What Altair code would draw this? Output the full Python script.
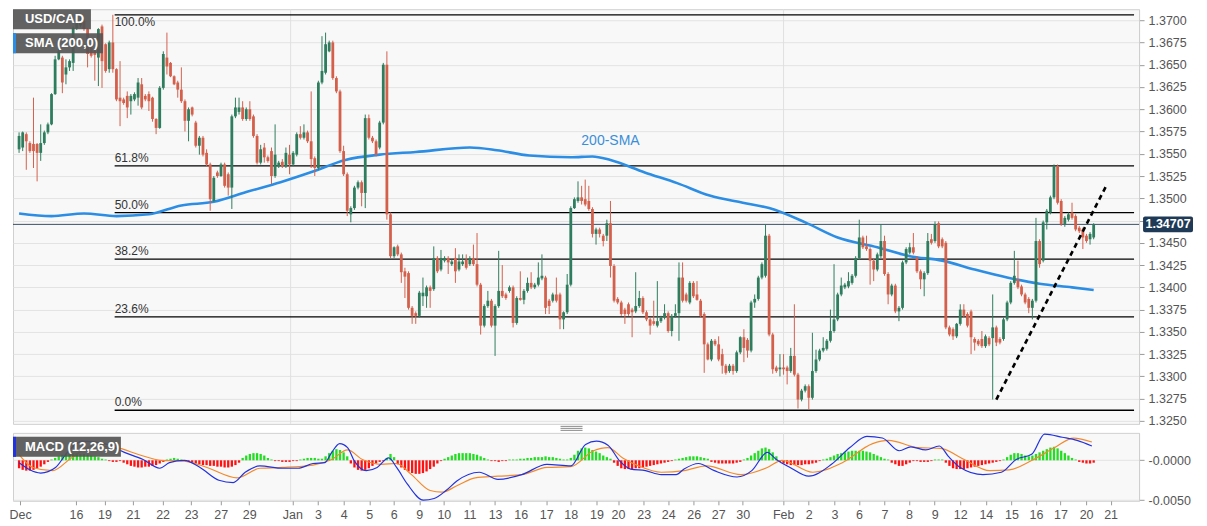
import altair as alt
import pandas as pd

# ---------------- candle data (4H USD/CAD) ----------------
open_ = [1.3555,1.3557,1.3572,1.3562,1.3561,1.3561,1.3551,1.3562,1.3574,1.3583,1.3617,1.3656,1.3658,1.3639,1.3647,1.3652,1.3691,1.3694,1.3699,1.3690,
1.3669,1.3665,1.3658,1.3693,1.3673,1.3645,1.3675,1.3645,1.3613,1.3611,1.3615,1.3609,1.3611,1.3613,1.3628,1.3615,1.3617,1.3613,1.3589,1.3579,
1.3624,1.3658,1.3652,1.3637,1.3630,1.3622,1.3609,1.3587,1.3602,1.3585,1.3559,1.3568,1.3551,1.3538,1.3497,1.3529,1.3525,1.3538,1.3527,1.3512,
1.3592,1.3597,1.3602,1.3589,1.3600,1.3592,1.3570,1.3540,1.3557,1.3546,1.3553,1.3525,1.3536,1.3541,1.3536,1.3549,1.3538,1.3549,1.3572,1.3568,
1.3574,1.3564,1.3545,1.3534,1.3630,1.3641,1.3665,1.3675,1.3635,1.3620,1.3553,1.3527,1.3482,1.3489,1.3512,1.3518,1.3506,1.3590,1.3568,1.3564,
1.3557,1.3585,1.3650,1.3482,1.3435,1.3446,1.3437,1.3418,1.3416,1.3377,1.3371,1.3368,1.3390,1.3390,1.3400,1.3398,1.3433,1.3420,1.3430,1.3433,
1.3426,1.3433,1.3420,1.3426,1.3431,1.3426,1.3433,1.3426,1.3403,1.3357,1.3379,1.3385,1.3357,1.3379,1.3396,1.3392,1.3396,1.3400,1.3360,1.3388,
1.3386,1.3396,1.3405,1.3400,1.3403,1.3410,1.3411,1.3385,1.3385,1.3392,1.3392,1.3364,1.3372,1.3403,1.3489,1.3497,1.3501,1.3499,1.3497,1.3488,
1.3460,1.3465,1.3458,1.3458,1.3472,1.3424,1.3387,1.3383,1.3375,1.3381,1.3375,1.3373,1.3379,1.3388,1.3372,1.3364,1.3362,1.3357,1.3362,1.3366,
1.3371,1.3351,1.3368,1.3371,1.3411,1.3392,1.3383,1.3405,1.3392,1.3385,1.3370,1.3336,1.3319,1.3340,1.3336,1.3325,1.3312,1.3306,1.3312,1.3306,
1.3327,1.3344,1.3341,1.3329,1.3383,1.3387,1.3411,1.3413,1.3458,1.3347,1.3310,1.3308,1.3310,1.3310,1.3306,1.3323,1.3302,1.3274,1.3284,1.3289,
1.3276,1.3306,1.3319,1.3329,1.3331,1.3340,1.3351,1.3364,1.3392,1.3400,1.3401,1.3405,1.3413,1.3433,1.3456,1.3446,1.3443,1.3430,1.3420,1.3435,
1.3452,1.3415,1.3392,1.3402,1.3373,1.3377,1.3428,1.3439,1.3445,1.3433,1.3418,1.3409,1.3416,1.3454,1.3452,1.3472,1.3454,1.3450,1.3355,1.3353,
1.3345,1.3359,1.3375,1.3370,1.3373,1.3342,1.3340,1.3342,1.3334,1.3343,1.3343,1.3355,1.3342,1.3342,1.3364,1.3383,1.3405,1.3409,1.3401,1.3392,
1.3387,1.3377,1.3385,1.3452,1.3430,1.3473,1.3484,1.3501,1.3536,1.3497,1.3471,1.3476,1.3484,1.3480,1.3467,1.3465,1.3458,1.3454,1.3456]
high_ = [1.3574,1.3575,1.3574,1.3564,1.3613,1.3562,1.3583,1.3576,1.3585,1.3618,1.3660,1.3673,1.3660,1.3656,1.3656,1.3693,1.3701,1.3703,1.3701,1.3691,
1.3672,1.3667,1.3691,1.3695,1.3674,1.3677,1.3706,1.3646,1.3654,1.3613,1.3620,1.3617,1.3619,1.3635,1.3635,1.3617,1.3620,1.3614,1.3590,1.3626,
1.3665,1.3686,1.3653,1.3638,1.3632,1.3647,1.3611,1.3602,1.3603,1.3587,1.3570,1.3570,1.3555,1.3540,1.3525,1.3531,1.3540,1.3540,1.3529,1.3594,
1.3613,1.3613,1.3609,1.3602,1.3609,1.3594,1.3572,1.3560,1.3562,1.3548,1.3557,1.3583,1.3542,1.3544,1.3557,1.3560,1.3553,1.3574,1.3581,1.3583,
1.3576,1.3620,1.3547,1.3632,1.3682,1.3686,1.3677,1.3677,1.3637,1.3622,1.3559,1.3529,1.3491,1.3514,1.3520,1.3520,1.3594,1.3594,1.3570,1.3566,
1.3587,1.3652,1.3665,1.3484,1.3446,1.3448,1.3439,1.3422,1.3418,1.3379,1.3373,1.3396,1.3411,1.3402,1.3402,1.3446,1.3435,1.3442,1.3435,1.3435,
1.3431,1.3444,1.3437,1.3437,1.3437,1.3435,1.3448,1.3461,1.3405,1.3381,1.3396,1.3387,1.3381,1.3441,1.3425,1.3394,1.3402,1.3402,1.3390,1.3418,
1.3398,1.3411,1.3417,1.3405,1.3428,1.3437,1.3413,1.3387,1.3394,1.3411,1.3394,1.3373,1.3415,1.3491,1.3501,1.3519,1.3514,1.3521,1.3514,1.3490,
1.3467,1.3467,1.3460,1.3476,1.3497,1.3426,1.3389,1.3385,1.3377,1.3383,1.3377,1.3417,1.3396,1.3390,1.3374,1.3366,1.3385,1.3407,1.3368,1.3381,
1.3373,1.3370,1.3381,1.3428,1.3428,1.3394,1.3407,1.3407,1.3407,1.3387,1.3372,1.3338,1.3342,1.3342,1.3345,1.3331,1.3314,1.3314,1.3314,1.3329,
1.3345,1.3353,1.3343,1.3385,1.3392,1.3413,1.3428,1.3471,1.3460,1.3349,1.3312,1.3325,1.3325,1.3312,1.3332,1.3381,1.3304,1.3286,1.3291,1.3291,
1.3349,1.3330,1.3331,1.3344,1.3342,1.3375,1.3426,1.3394,1.3411,1.3405,1.3417,1.3415,1.3435,1.3476,1.3458,1.3458,1.3445,1.3432,1.3439,1.3471,
1.3458,1.3417,1.3404,1.3404,1.3379,1.3430,1.3445,1.3450,1.3461,1.3435,1.3420,1.3418,1.3461,1.3460,1.3474,1.3474,1.3456,1.3452,1.3357,1.3355,
1.3360,1.3381,1.3381,1.3372,1.3375,1.3344,1.3342,1.3351,1.3347,1.3345,1.3392,1.3357,1.3344,1.3366,1.3385,1.3407,1.3441,1.3430,1.3403,1.3394,
1.3389,1.3387,1.3478,1.3454,1.3475,1.3488,1.3503,1.3538,1.3538,1.3499,1.3480,1.3484,1.3495,1.3482,1.3469,1.3467,1.3460,1.3462,1.3472]
low_ = [1.3551,1.3553,1.3532,1.3551,1.3534,1.3519,1.3542,1.3560,1.3572,1.3582,1.3616,1.3655,1.3618,1.3628,1.3643,1.3643,1.3689,1.3692,1.3688,1.3647,
1.3658,1.3632,1.3626,1.3624,1.3641,1.3641,1.3641,1.3609,1.3581,1.3605,1.3590,1.3594,1.3609,1.3604,1.3600,1.3609,1.3598,1.3586,1.3572,1.3578,
1.3622,1.3639,1.3636,1.3627,1.3613,1.3607,1.3575,1.3564,1.3592,1.3557,1.3549,1.3547,1.3536,1.3486,1.3496,1.3523,1.3524,1.3512,1.3503,1.3488,
1.3590,1.3594,1.3587,1.3587,1.3587,1.3568,1.3538,1.3538,1.3540,1.3540,1.3516,1.3523,1.3534,1.3534,1.3534,1.3527,1.3536,1.3547,1.3566,1.3566,
1.3562,1.3534,1.3525,1.3532,1.3628,1.3639,1.3664,1.3633,1.3618,1.3551,1.3525,1.3480,1.3473,1.3487,1.3510,1.3491,1.3489,1.3566,1.3562,1.3547,
1.3555,1.3583,1.3476,1.3433,1.3433,1.3435,1.3405,1.3388,1.3375,1.3359,1.3359,1.3366,1.3379,1.3377,1.3377,1.3396,1.3416,1.3418,1.3428,1.3415,
1.3424,1.3405,1.3418,1.3424,1.3420,1.3424,1.3424,1.3401,1.3347,1.3355,1.3377,1.3355,1.3323,1.3377,1.3388,1.3386,1.3394,1.3355,1.3358,1.3385,
1.3381,1.3394,1.3398,1.3398,1.3401,1.3408,1.3370,1.3370,1.3383,1.3383,1.3353,1.3353,1.3370,1.3401,1.3488,1.3495,1.3493,1.3491,1.3486,1.3456,
1.3448,1.3456,1.3446,1.3452,1.3411,1.3383,1.3381,1.3368,1.3359,1.3368,1.3344,1.3371,1.3377,1.3370,1.3362,1.3347,1.3357,1.3355,1.3360,1.3364,
1.3349,1.3345,1.3366,1.3340,1.3383,1.3383,1.3381,1.3388,1.3385,1.3366,1.3304,1.3318,1.3317,1.3334,1.3317,1.3303,1.3302,1.3304,1.3302,1.3304,
1.3325,1.3316,1.3321,1.3327,1.3377,1.3385,1.3409,1.3411,1.3345,1.3303,1.3304,1.3300,1.3302,1.3291,1.3304,1.3300,1.3264,1.3272,1.3282,1.3263,
1.3274,1.3304,1.3317,1.3327,1.3329,1.3338,1.3349,1.3362,1.3390,1.3398,1.3399,1.3403,1.3411,1.3431,1.3443,1.3441,1.3403,1.3407,1.3418,1.3433,
1.3413,1.3381,1.3390,1.3371,1.3362,1.3375,1.3426,1.3437,1.3437,1.3416,1.3398,1.3390,1.3414,1.3448,1.3450,1.3444,1.3444,1.3353,1.3345,1.3341,
1.3343,1.3357,1.3366,1.3355,1.3325,1.3329,1.3334,1.3332,1.3332,1.3334,1.3274,1.3334,1.3336,1.3340,1.3362,1.3381,1.3403,1.3398,1.3390,1.3381,
1.3371,1.3364,1.3383,1.3422,1.3428,1.3465,1.3482,1.3499,1.3493,1.3469,1.3468,1.3474,1.3476,1.3463,1.3461,1.3443,1.3450,1.3448,1.3454]
close_ = [1.3570,1.3574,1.3564,1.3553,1.3553,1.3551,1.3562,1.3574,1.3583,1.3617,1.3656,1.3665,1.3630,1.3647,1.3654,1.3691,1.3697,1.3699,1.3690,1.3662,
1.3660,1.3661,1.3690,1.3654,1.3643,1.3675,1.3645,1.3611,1.3609,1.3607,1.3602,1.3615,1.3617,1.3630,1.3602,1.3611,1.3609,1.3589,1.3579,1.3624,
1.3662,1.3648,1.3637,1.3628,1.3622,1.3609,1.3587,1.3600,1.3594,1.3559,1.3568,1.3549,1.3538,1.3499,1.3523,1.3525,1.3538,1.3514,1.3512,1.3592,
1.3602,1.3602,1.3589,1.3600,1.3589,1.3570,1.3540,1.3555,1.3546,1.3542,1.3525,1.3549,1.3540,1.3536,1.3551,1.3538,1.3551,1.3572,1.3568,1.3574,
1.3564,1.3544,1.3534,1.3630,1.3643,1.3673,1.3675,1.3635,1.3620,1.3553,1.3527,1.3486,1.3489,1.3512,1.3518,1.3506,1.3590,1.3568,1.3564,1.3549,
1.3585,1.3650,1.3482,1.3435,1.3445,1.3437,1.3417,1.3412,1.3377,1.3368,1.3368,1.3394,1.3394,1.3400,1.3396,1.3433,1.3418,1.3433,1.3433,1.3428,
1.3429,1.3418,1.3429,1.3429,1.3422,1.3433,1.3426,1.3403,1.3357,1.3379,1.3385,1.3357,1.3379,1.3396,1.3390,1.3388,1.3400,1.3360,1.3388,1.3386,
1.3396,1.3405,1.3400,1.3403,1.3411,1.3413,1.3377,1.3379,1.3392,1.3385,1.3364,1.3372,1.3403,1.3489,1.3499,1.3501,1.3497,1.3493,1.3488,1.3460,
1.3465,1.3460,1.3452,1.3472,1.3424,1.3385,1.3383,1.3370,1.3370,1.3370,1.3372,1.3379,1.3388,1.3372,1.3364,1.3357,1.3359,1.3362,1.3366,1.3371,
1.3351,1.3368,1.3371,1.3411,1.3385,1.3385,1.3405,1.3390,1.3386,1.3368,1.3336,1.3319,1.3340,1.3336,1.3319,1.3312,1.3304,1.3312,1.3306,1.3327,
1.3344,1.3332,1.3329,1.3383,1.3387,1.3411,1.3426,1.3458,1.3347,1.3308,1.3306,1.3310,1.3308,1.3306,1.3323,1.3302,1.3274,1.3284,1.3289,1.3276,
1.3306,1.3319,1.3329,1.3332,1.3340,1.3351,1.3364,1.3392,1.3402,1.3403,1.3407,1.3413,1.3433,1.3456,1.3445,1.3443,1.3430,1.3420,1.3437,1.3452,
1.3415,1.3392,1.3402,1.3373,1.3377,1.3428,1.3443,1.3445,1.3439,1.3418,1.3409,1.3416,1.3452,1.3450,1.3471,1.3446,1.3446,1.3355,1.3347,1.3345,
1.3359,1.3375,1.3368,1.3357,1.3344,1.3338,1.3336,1.3334,1.3345,1.3336,1.3355,1.3338,1.3338,1.3364,1.3383,1.3405,1.3413,1.3400,1.3392,1.3383,
1.3377,1.3385,1.3452,1.3426,1.3473,1.3486,1.3501,1.3536,1.3495,1.3471,1.3478,1.3482,1.3478,1.3465,1.3463,1.3456,1.3452,1.3460,1.34707]

# ---------------- 200-SMA (candle index, value) ----------------
sma_idx = [0, 9, 18, 27, 36, 45, 54, 63, 72.5, 81.5, 90.5, 100, 110, 125, 132.5, 141.5, 153, 159, 164, 173.5,
           182.5, 191.5, 200.7, 208, 218, 227, 238, 247, 256, 265, 274, 283, 292, 298]
sma_val = [1.3483, 1.3480, 1.3483, 1.3480, 1.3482, 1.3492, 1.3496, 1.3507, 1.3518, 1.3530, 1.3543, 1.3549, 1.3552, 1.3557,
           1.3554, 1.3548, 1.3546, 1.3547, 1.3543, 1.3529, 1.3517, 1.3503, 1.3495, 1.3489, 1.3473, 1.3456, 1.3445, 1.3435,
           1.3430, 1.3420, 1.3411, 1.3404, 1.3400, 1.3397]

# ---------------- MACD (12,26,9) ----------------
macd_idx = [0, 6.0, 10.1, 13.4, 17.5, 23.7, 29.2, 34.4, 39.0, 41.7, 45.8, 50.2, 55.4, 59.4, 62.7, 66.8, 73.1, 77.4, 81.5, 84.8,
            86.7, 88.9, 91.1, 93.0, 96.3, 99.3, 102.5, 104.7, 107.7, 112.1, 115.1, 118.4, 121.4, 127.6, 132.8, 139.4, 146.4, 153.0,
            157.1, 160.1, 163.3, 166.6, 169.6, 173.7, 178.1, 182.2, 184.4, 188.4, 192.8, 199.1, 203.2, 207.5, 210.0, 213.8, 219.0,
            225.3, 230.4, 235.1, 239.4, 244.1, 247.3, 251.4, 255.2, 257.7, 261.0, 267.3, 272.4, 276.5, 280.9, 284.4, 289.3, 293.4, 297.5]
macd_val = [-0.0003, -0.0016, -0.0009, 0.0010, 0.0024, 0.0021, 0.0010, 0.0001, -0.0010, -0.0003, 0.0000, -0.0009, -0.0025, -0.0028,
            -0.0015, -0.0007, -0.0010, -0.0010, -0.0004, -0.0003, 0.0010, 0.0021, 0.0016, -0.0001, -0.0013, -0.0009, 0.0003, -0.0009,
            -0.0030, -0.0050, -0.0048, -0.0038, -0.0026, -0.0015, -0.0024, -0.0018, -0.0005, -0.0007, 0.0020, 0.0024, 0.0019, -0.0001,
            -0.0011, -0.0013, -0.0018, -0.0018, -0.0011, -0.0004, -0.0013, -0.0021, -0.0013, 0.0010, 0.0001, -0.0009, -0.0020, -0.0005,
            0.0016, 0.0030, 0.0028, 0.0012, 0.0017, 0.0013, 0.0018, 0.0005, -0.0009, -0.0018, -0.0015, 0.0001, 0.0008, 0.0033, 0.0029,
            0.0025, 0.0018]
signal_idx = [0, 3.8, 9.3, 14.5, 20.7, 27.0, 33.3, 39.5, 45.8, 52.1, 60.5, 66.8, 73.1, 81.5, 86.7, 91.1, 95.2, 100.4, 104.7, 108.8,
              114.0, 117.3, 121.4, 126.5, 132.8, 139.4, 146.4, 153.0, 159.3, 163.3, 167.4, 171.8, 178.1, 184.4, 190.6, 200.2, 207.5,
              211.6, 220.1, 228.3, 236.7, 241.1, 249.3, 255.5, 262.1, 269.2, 274.6, 280.9, 287.2, 292.4, 297.5]
signal_val = [0.0007, -0.0009, -0.0013, 0.0003, 0.0018, 0.0016, 0.0007, 0.0000, -0.0001, -0.0009, -0.0022, -0.0010, -0.0009, -0.0006,
              0.0001, 0.0013, 0.0001, -0.0005, -0.0004, -0.0018, -0.0038, -0.0040, -0.0032, -0.0022, -0.0020, -0.0018, -0.0009,
              -0.0008, 0.0012, 0.0016, 0.0003, -0.0007, -0.0015, -0.0013, -0.0007, -0.0018, -0.0009, 0.0000, -0.0015, -0.0003, 0.0021,
              0.0025, 0.0016, 0.0015, 0.0001, -0.0013, -0.0012, 0.0000, 0.0016, 0.0028, 0.0023]
# histogram, one bar per candle, in units of 0.0001
hist_e4 = [-10,-12,-13,-13,-12,-10,-8,-5,-2,
           1,3,5,7,8,9,9,9,8,8,7,6,5,4,2,1,
           -1,-2,-2,-1,
           -3,-5,-7,-8,-9,-9,-8,-8,-7,-6,-4,-2,
           1,2,3,2,1,
           -1,-2,-3,-4,-5,-6,-6,-7,-7,-8,-8,-9,-9,-8,-6,
           -3,
           3,6,8,9,9,8,6,3,
           1,
           -1,-1,-2,-2,-2,-1,-1,
           1,2,3,3,3,2,2,
           5,9,12,14,13,10,5,
           -4,-9,-12,-13,-12,-10,-7,-4,
           -2,-1,
           3,8,4,
           -5,-9,-12,-14,-16,-17,-17,-16,-14,-11,-8,-4,
           -1,
           2,4,6,8,9,9,9,9,8,7,5,3,1,
           -1,-1,-2,-1,-1,
           1,1,1,2,2,3,3,4,4,4,5,4,4,3,2,1,
           1,3,7,
           12,15,16,15,13,11,9,6,4,
           2,
           -3,-7,-10,-11,-11,-11,-10,-10,-9,-8,-7,-6,-5,-4,-3,-2,-1,
           1,
           2,3,4,5,5,5,4,3,2,
           -2,-3,-4,-4,-4,-4,-4,-3,-2,
           1,3,
           6,9,12,15,16,14,10,5,
           -2,-4,-5,-6,-6,-6,-6,-5,-5,-4,-3,
           -1,
           1,2,4,6,8,9,10,11,12,12,12,12,11,10,8,6,4,2,
           1,
           -3,-5,-7,-7,-5,-3,
           -1,
           -1,-2,-2,-2,-1,
           1,1,1,
           -3,-7,-10,-11,-11,-11,-10,-9,-8,-7,-6,-5,-4,-3,-2,-1,
           1,
           4,7,9,9,8,6,5,
           6,8,10,12,14,16,17,15,12,9,6,3,1,
           -2,-3,-4,-4,-3]

# ---------------- Fibonacci retracement ----------------
fib_labels = ["100.0%", "61.8%", "50.0%", "38.2%", "23.6%", "0.0%"]
fib_levels = [1.3706, 1.35364, 1.3484, 1.34316, 1.33668, 1.3262]
fib_start = 26.5

trend_idx = [271, 301.5]
trend_val = [1.3274, 1.3514]
last_price = 1.34707

y_ticks = [1.3250, 1.3275, 1.3300, 1.3325, 1.3350, 1.3375, 1.3400, 1.3425, 1.3450, 1.3475,
           1.3500, 1.3525, 1.3550, 1.3575, 1.3600, 1.3625, 1.3650, 1.3675, 1.3700]
x_tick_pos = [0.3, 15.8, 23.7, 31.6, 39.8, 47.7, 55.9, 63.8, 75.8, 82.9, 90.0, 97.1, 103.9, 111.0, 117.8,
              124.9, 132.0, 139.1, 146.2, 153.0, 160.1, 166.1, 173.2, 180.0, 187.1, 193.9, 200.7,
              211.9, 219.0, 226.1, 232.9, 240.0, 246.8, 253.9, 261.0, 268.1, 275.2, 282.0, 288.8, 295.9, 302.7]
x_tick_lab = ["Dec", "16", "19", "21", "22", "23", "27", "29", "Jan", "3", "4", "5", "6", "9", "10",
              "11", "13", "16", "17", "18", "19", "20", "23", "24", "26", "27", "30",
              "Feb", "2", "3", "6", "7", "8", "9", "12", "14", "15", "16", "17", "20", "21"]
month_sep = [75.3, 212.0]

# ---------------- styling ----------------
GREEN = "#2e7d5e"
RED = "#d4604c"
FONT = "Liberation Sans"
W = 1127
H_MAIN = 415
H_MACD = 68
X_DOM = [-0.3, 309.2]
Y_DOM = [1.32467, 1.37123]
M_DOM = [-0.00509, 0.00345]

n = min(len(open_), len(high_), len(low_), len(close_))
candles = pd.DataFrame({
    "idx": list(range(n)),
    "open": open_[:n], "high": high_[:n], "low": low_[:n], "close": close_[:n],
})
m = min(len(hist_e4), n)
hist_df = pd.DataFrame({"idx": list(range(m)), "h": [v * 0.0001 for v in hist_e4[:m]]})
sma_df = pd.DataFrame({"idx": sma_idx, "v": sma_val})
macd_df = pd.DataFrame({"idx": macd_idx, "v": macd_val})
sig_df = pd.DataFrame({"idx": signal_idx, "v": signal_val})
# the top level's label sits under its line (no room above the plot edge), the others above it
fib_df = pd.DataFrame({"lvl": fib_levels, "lab": fib_labels, "x0": [fib_start] * len(fib_levels),
                       "x1": [X_DOM[1]] * len(fib_levels),
                       "below": [1] + [0] * (len(fib_levels) - 1)})
trend_df = pd.DataFrame({"idx": trend_idx, "v": trend_val})
sep_df = pd.DataFrame({"idx": month_sep})
last_df = pd.DataFrame({"p": [last_price], "lab": [f"{last_price:.5f}"],
                        "top": [last_price + 0.00088], "bot": [last_price - 0.00088]})
one = pd.DataFrame({"k": [0]})

xs = alt.Scale(domain=X_DOM, nice=False, zero=False)
ys = alt.Scale(domain=Y_DOM, nice=False, zero=False)
ms = alt.Scale(domain=M_DOM, nice=False, zero=False)

Y_AX = alt.Axis(orient="right", values=y_ticks,
                labelExpr=f"abs(datum.value - {last_price}) < 0.0006 ? '' : format(datum.value, '.4f')",
                grid=True, gridColor="#e3e3e3",
                domain=True, domainColor="#cfcfcf", tickColor="#9a9a9a", tickSize=5,
                labelColor="#555555", labelFontSize=12.5, labelFont=FONT, labelPadding=4, title=None)
M_AX = alt.Axis(orient="right", values=[0.0, -0.005],
                labelExpr="datum.value == 0 ? '-0.0000' : '-0.0050'",
                grid=True, gridColor="#e3e3e3", domain=True, domainColor="#cfcfcf", tickColor="#9a9a9a",
                tickSize=5, labelColor="#555555", labelFontSize=12.5, labelFont=FONT, labelPadding=4, title=None)
labs_js = "[" + ",".join(f"'{s}'" for s in x_tick_lab) + "]"
pos_js = "[" + ",".join(repr(p) for p in x_tick_pos) + "]"
X_AX = alt.Axis(orient="bottom", values=x_tick_pos, labelExpr=f"{labs_js}[indexof({pos_js}, datum.value)]",
                grid=False, domain=False, tickColor="#9a9a9a", tickSize=4, labelColor="#555555",
                labelFontSize=12.5, labelFont=FONT, labelPadding=4, labelOverlap=False, labelBound=False,
                labelFlush=False, title=None)

col = alt.condition("datum.close >= datum.open", alt.value(GREEN), alt.value(RED))


def xm(f):
    return alt.X(f, scale=xs, axis=None)


def ym(f):
    return alt.Y(f, scale=ys, axis=Y_AX)


sep_main = alt.Chart(sep_df).mark_rule(color="#e0e0e0", strokeWidth=1).encode(x=xm("idx:Q"))

wicks = alt.Chart(candles).mark_rule(strokeWidth=1).encode(
    x=xm("idx:Q"), y=ym("low:Q"), y2="high:Q", color=col)
bodies = alt.Chart(candles).mark_bar(width=2.8).encode(
    x=xm("idx:Q"), y=ym("open:Q"), y2="close:Q", color=col)

fib_rules = alt.Chart(fib_df).mark_rule(color="#000000", strokeWidth=1.3).encode(
    x=xm("x0:Q"), x2="x1:Q", y=ym("lvl:Q"))
fib_text_above = alt.Chart(fib_df).transform_filter("datum.below == 0").mark_text(
    align="left", baseline="bottom", dy=-1, fontSize=12, font=FONT, color="#333333").encode(
    x=xm("x0:Q"), y=ym("lvl:Q"), text="lab:N")
fib_text_below = alt.Chart(fib_df).transform_filter("datum.below == 1").mark_text(
    align="left", baseline="top", dy=2, fontSize=12, font=FONT, color="#333333").encode(
    x=xm("x0:Q"), y=ym("lvl:Q"), text="lab:N")

last_line = alt.Chart(last_df).mark_rule(color="#3b4f66", strokeWidth=1).encode(y=ym("p:Q"))

sma_line = alt.Chart(sma_df).mark_line(color="#2b8de3", strokeWidth=2.6, interpolate="monotone").encode(
    x=xm("idx:Q"), y=ym("v:Q"))
sma_lab = alt.Chart(pd.DataFrame({"idx": [164], "v": [1.3556], "t": ["200-SMA"]})).mark_text(
    fontSize=14, font=FONT, color="#3a8fd9", baseline="bottom").encode(
    x=xm("idx:Q"), y=ym("v:Q"), text="t:N")

trend = alt.Chart(trend_df).mark_line(color="#000000", strokeWidth=2.6, strokeDash=[5, 4]).encode(
    x=xm("idx:Q"), y=ym("v:Q"))

price_box = alt.Chart(last_df).mark_rect(color="#1f3a57", cornerRadius=2).encode(
    x=alt.value(W + 4), x2=alt.value(W + 54), y=ym("top:Q"), y2="bot:Q")
price_txt = alt.Chart(last_df).mark_text(color="white", fontWeight="bold", fontSize=12.5, font=FONT).encode(
    x=alt.value(W + 29), y=ym("p:Q"), text="lab:N")

# small pane-resize handle between the two panels
handle = [alt.Chart(one).mark_rule(color="#8a8a8a", strokeWidth=1).encode(
    x=alt.value(548), x2=alt.value(570), y=alt.value(H_MAIN + dy)) for dy in (2.5, 4.5, 6.5)]


def legend_box(x1, y0, y1, strip_color=None, label="", ty=0):
    layers = [alt.Chart(one).mark_rect(color="#555555", opacity=0.92).encode(
        x=alt.value(0), x2=alt.value(x1), y=alt.value(y0), y2=alt.value(y1))]
    if strip_color:
        layers.append(alt.Chart(one).mark_rect(color=strip_color).encode(
            x=alt.value(0), x2=alt.value(3), y=alt.value(y0), y2=alt.value(y1)))
    layers.append(alt.Chart(one).mark_text(color="white", fontWeight="bold", fontSize=13, font=FONT,
                                           align="left", baseline="middle", text=label).encode(
        x=alt.value(12), y=alt.value(ty)))
    return layers


main = alt.layer(
    sep_main, last_line, fib_rules, sma_line, wicks, bodies, trend, fib_text_above, fib_text_below, sma_lab,
    price_box, price_txt, *handle,
    *legend_box(78, 0, 20, None, "USD/CAD", 10),
    *legend_box(90, 24, 44, "#2b8de3", "SMA (200,0)", 34),
).properties(width=W, height=H_MAIN)


# ---------------- MACD panel ----------------
def xb(f):
    return alt.X(f, scale=xs, axis=X_AX)


def yb(f):
    return alt.Y(f, scale=ms, axis=M_AX)


sep_macd = alt.Chart(sep_df).mark_rule(color="#e0e0e0", strokeWidth=1).encode(x=xb("idx:Q"))
hist = alt.Chart(hist_df).mark_bar(width=2.3).encode(
    x=xb("idx:Q"), y=yb("h:Q"), y2=alt.datum(0),
    color=alt.condition("datum.h >= 0", alt.value("#22dd22"), alt.value("#ff1111")),
)
sig_line = alt.Chart(sig_df).mark_line(color="#f28a2e", strokeWidth=1.2, interpolate="monotone").encode(
    x=xb("idx:Q"), y=yb("v:Q"))
macd_line = alt.Chart(macd_df).mark_line(color="#2233dd", strokeWidth=1.2, interpolate="monotone").encode(
    x=xb("idx:Q"), y=yb("v:Q"))

macd_panel = alt.layer(
    sep_macd, hist, sig_line, macd_line,
    *legend_box(108, 4, 24, "#2233dd", "MACD (12,26,9)", 14),
).properties(width=W, height=H_MACD)

chart = alt.vconcat(main, macd_panel, spacing=9, bounds="flush").properties(
    padding={"left": 0, "top": 0, "right": 5, "bottom": 5},
    background="white",
).configure_view(stroke="#d0d0d0", fill="#f8f8f8").resolve_scale(x="shared")

chart.save("out.html", embed_options={"renderer": "svg", "actions": False})
